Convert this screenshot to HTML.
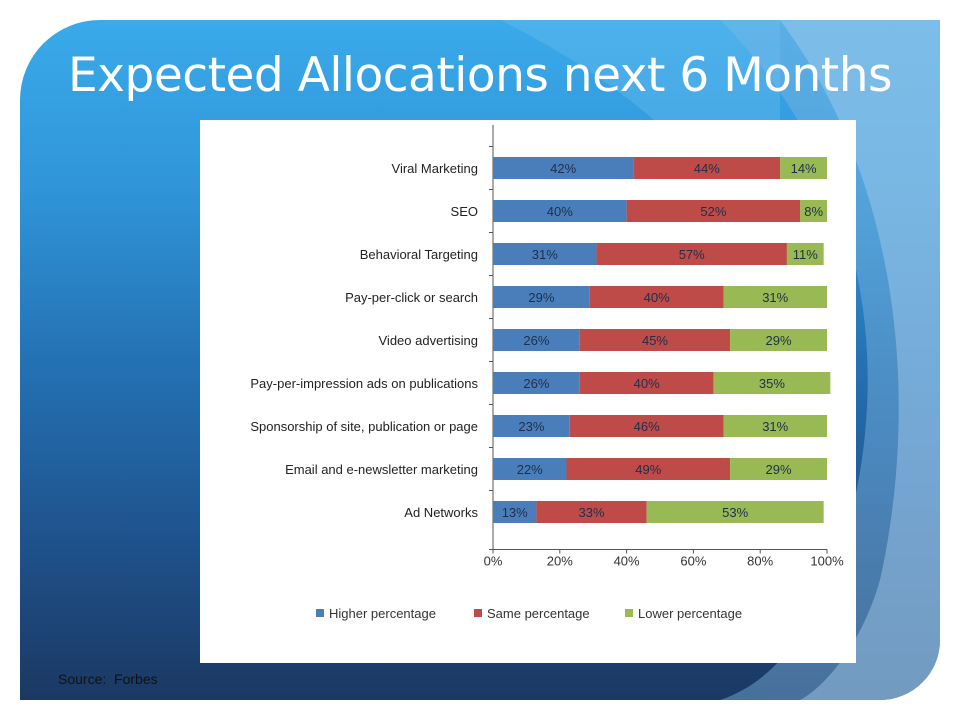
<!DOCTYPE html>
<html><head><meta charset="utf-8">
<style>
html,body{margin:0;padding:0;background:#fff;width:960px;height:720px;overflow:hidden;font-family:"Liberation Sans",sans-serif}
#slide{position:absolute;left:20px;top:20px;width:920px;height:680px;border-radius:80px 0 60px 0;overflow:hidden;
background:linear-gradient(180deg,#3aaaea 0%,#2f95d8 25%,#2472b4 50%,#1f548f 75%,#1b3862 100%)}
#title{position:absolute;left:0;top:28px;width:920px;text-align:center;color:#fff;font-size:47px;font-family:"DejaVu Sans","Liberation Sans",sans-serif;letter-spacing:-0.5px}
#panel{position:absolute;left:200px;top:120px;width:656px;height:543px;background:#fff}
#source{position:absolute;left:58px;top:671px;font-size:14px;color:#111}
</style></head><body>
<div id="slide">
<svg width="920" height="680" style="position:absolute;left:0;top:0">
<path d="M700,0 C820,120 880,300 830,500 C800,600 760,660 700,680 L920,680 L920,0 Z" fill="#7fb6e0" opacity="0.45"/>
<path d="M760,0 C880,160 900,380 860,560 C840,630 800,670 780,680 L920,680 L920,0 Z" fill="#a8cfee" opacity="0.45"/>
<path d="M480,0 C600,60 700,140 760,260 L760,0 Z" fill="#6fc0f0" opacity="0.35"/>
</svg>
<div id="title">Expected Allocations next 6 Months</div>
</div>
<div id="panel"></div>
<div id="source">Source:&nbsp; Forbes</div>
<svg id="chart" width="960" height="720" style="position:absolute;left:0;top:0"></svg>
<script>
const categories=["Viral Marketing","SEO","Behavioral Targeting","Pay-per-click or search","Video advertising","Pay-per-impression ads on publications","Sponsorship of site, publication or page","Email and e-newsletter marketing","Ad Networks"];
const higher=[42,40,31,29,26,26,23,22,13];
const same=[44,52,57,40,45,40,46,49,33];
const lower=[14,8,11,31,29,35,31,29,53];
const ticks=["0%","20%","40%","60%","80%","100%"];
const seriesNames=["Higher percentage","Same percentage","Lower percentage"];
const colors=["#4a7ebb","#be4b48","#98b954"];
const NS="http://www.w3.org/2000/svg";
const svg=document.getElementById('chart');
const x0=493,x1=827,yTop=125,step=43,firstY=168,barH=22;
const xs=v=>x0+(x1-x0)*v/100;
const ys=i=>firstY+i*step;
function mk(t,a){const e=document.createElementNS(NS,t);for(const k in a)e.setAttribute(k,a[k]);svg.appendChild(e);return e;}
const axisBottom=ys(categories.length-1)+step/2+16;
let ax=mk('line',{x1:x0,y1:yTop,x2:x0,y2:axisBottom,stroke:'#555','stroke-width':1});


let bx=mk('line',{x1:x0,y1:axisBottom,x2:x1,y2:axisBottom,stroke:'#555','stroke-width':1});


for(let i=0;i<=categories.length;i++){
  const yy=i<categories.length?ys(i)-step/2:axisBottom;
  const t=mk('line',{x1:x0-4,y1:yy,x2:x0,y2:yy,stroke:'#555'});
  
  
}
ticks.forEach((lab,i)=>{
  const xx=xs(i*20);
  const t=mk('line',{x1:xx,y1:axisBottom,x2:xx,y2:axisBottom+4,stroke:'#555'});
  
  
  const tx=mk('text',{x:xx,y:axisBottom+16,'text-anchor':'middle','font-size':13,fill:'#333'});
  tx.textContent=lab;
  
  
});
const series=[higher,same,lower];
categories.forEach((c,i)=>{
  const lab=mk('text',{x:x0-15,y:ys(i)+5,'text-anchor':'end','font-size':13,fill:'#222'});
  lab.textContent=c;
  
  
  let acc=0;
  series.forEach((s,k)=>{
    const v=s[i];
    const r=mk('rect',{x:xs(acc),y:ys(i)-barH/2,width:xs(acc+v)-xs(acc),height:barH,fill:colors[k]});
    
    
    const t=mk('text',{x:(xs(acc)+xs(acc+v))/2,y:ys(i)+5,'text-anchor':'middle','font-size':13,fill:'#1f2f4a'});
    t.textContent=v+'%';
    
    
    acc+=v;
  });
});
const legX=[316,474,625];
seriesNames.forEach((n,k)=>{
  const r=mk('rect',{x:legX[k],y:609,width:8,height:8,fill:colors[k]});
  
  
  const t=mk('text',{x:legX[k]+13,y:618,'font-size':13,fill:'#333'});
  t.textContent=n;
  
  
});
</script>
</body></html>
